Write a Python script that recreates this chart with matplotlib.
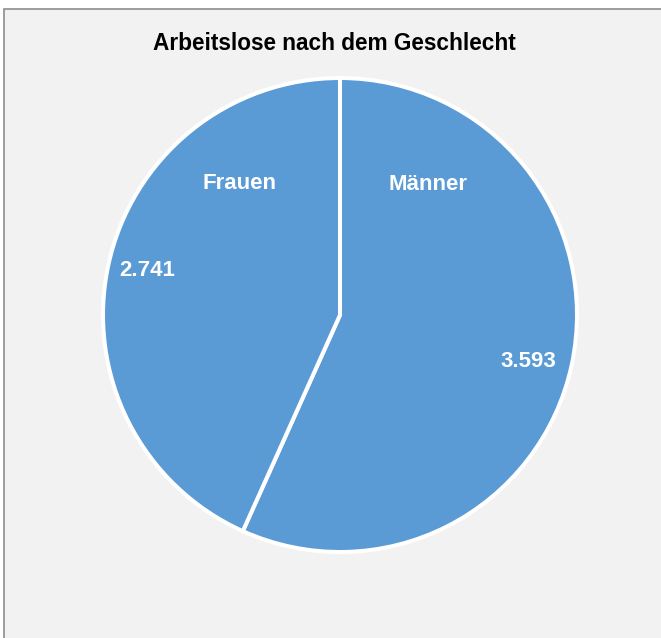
import matplotlib.pyplot as plt
from matplotlib.patches import Rectangle

# Data
categories = ["Männer", "Frauen"]
values = [3593, 2741]
value_labels = ["3.593", "2.741"]
title = "Arbeitslose nach dem Geschlecht"

BLUE = "#5B9BD5"
BG = "#F2F2F2"

plt.rcParams['font.family'] = ['Liberation Sans', 'DejaVu Sans']

fig = plt.figure(figsize=(6.61, 6.38), dpi=100, facecolor="white")

# chart area background with grey frame (top and left edges visible)
frame = Rectangle((4 / 661, -0.05), 1.1, 1 - 9 / 638 + 0.05,
                  transform=fig.transFigure, facecolor=BG,
                  edgecolor="#8C8C8C", linewidth=1.2, zorder=-10)
fig.patches.append(frame)

# pie: centre (340, 315) px, radius 237 px
cx, cy, r = 340 / 661, 1 - 315 / 638, 237
w = 2 * r / 661
h = 2 * r / 638
ax = fig.add_axes([cx - w / 2, cy - h / 2, w, h])
ax.set_facecolor("none")

wedges, _ = ax.pie(values, colors=[BLUE, BLUE], startangle=90, counterclock=False,
                   wedgeprops=dict(edgecolor="white", linewidth=2.9))
ax.set_xlim(-1, 1)
ax.set_ylim(-1, 1)
ax.set_aspect("equal")

# label positions in pie-radius units
name_pos = [(0.371, 0.549), (-0.426, 0.553)]
value_pos = [(0.793, -0.198), (-0.814, 0.186)]
for cat, (x, y) in zip(categories, name_pos):
    ax.text(x, y, cat, ha="center", va="center", color="white",
            fontsize=16, fontweight="bold")
for lab, (x, y) in zip(value_labels, value_pos):
    ax.text(x, y, lab, ha="center", va="center", color="white",
            fontsize=16, fontweight="bold")

fig.text(334 / 661, 1 - 44 / 638, title, ha="center", va="center",
         fontsize=16.3, fontweight="bold", color="black")

fig.savefig("out.png", dpi=100, facecolor=fig.get_facecolor())
